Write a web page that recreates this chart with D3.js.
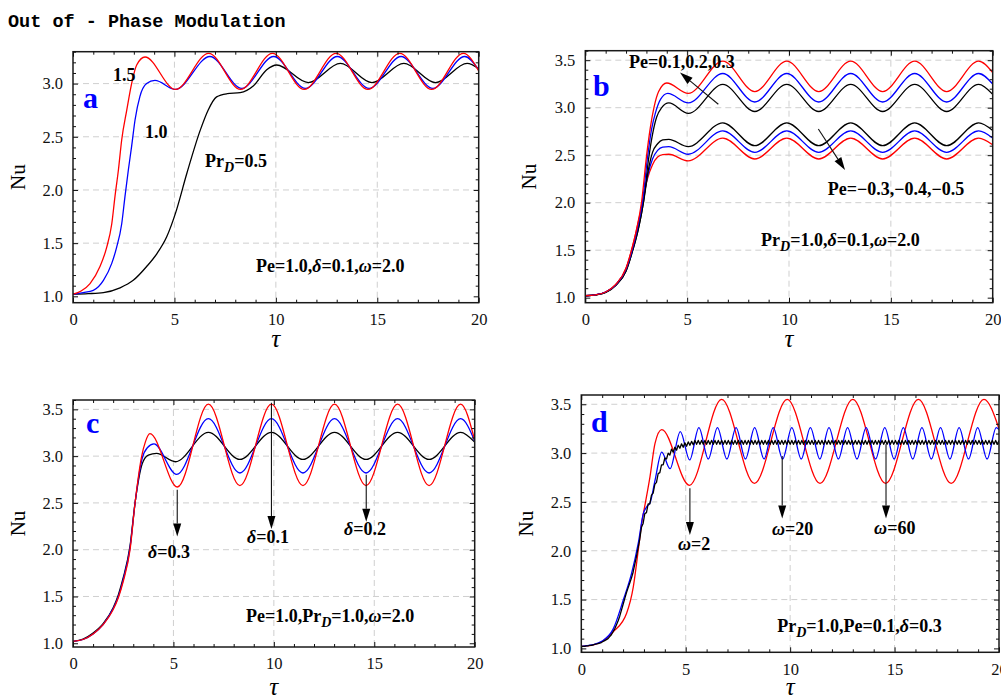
<!DOCTYPE html>
<html>
<head>
<meta charset="utf-8">
<script src="https://cdn.jsdelivr.net/npm/d3@7"></script>
<style>
  body { margin: 0; background: #fff; }
  svg { display: block; }
</style>
</head>
<body>
<svg id="fig" width="1001" height="697"></svg>
<script>
// ---------------- data ----------------
const tauTicks = [0, 5, 10, 15, 20];
const nuTicksA = [1.0, 1.5, 2.0, 2.5, 3.0];
const nuTicksBCD = [1.0, 1.5, 2.0, 2.5, 3.0, 3.5];

// (a) Pr_D = 0.5, 1.0, 1.5 ; points are [tau, Nu]
const prD05 = [[0,1.02],[0.75,1.025],[1.5,1.035],[2.32,1.08],[2.97,1.15],[3.63,1.28],[4.13,1.40],[4.62,1.56],[5.05,1.78],[5.61,2.155],[6.27,2.56],[6.66,2.75],[7.08,2.875],[7.6,2.905],[8.24,2.915],[8.9,2.98],[9.55,3.13],[10.04,3.175],[11.6,3.01],[13.18,3.19],[14.74,3.01],[16.31,3.19],[17.87,3.01],[19.43,3.19],[20,3.14]];
const prD10 = [[0,1.02],[0.5,1.035],[1.0,1.056],[1.5,1.15],[1.91,1.31],[2.15,1.46],[2.4,1.68],[2.56,1.935],[2.73,2.19],[2.89,2.41],[3.06,2.66],[3.3,2.88],[3.63,3.0],[4.04,3.03],[5.05,2.945],[6.75,3.255],[8.32,2.955],[9.89,3.255],[11.46,2.955],[13.03,3.255],[14.6,2.955],[16.17,3.255],[17.74,2.955],[19.31,3.255],[20,3.13]];
const prD15 = [[0,1.02],[0.4,1.05],[0.84,1.12],[1.33,1.28],[1.66,1.46],[1.91,1.68],[2.07,1.94],[2.24,2.19],[2.4,2.47],[2.65,2.75],[2.89,3.0],[3.14,3.175],[3.55,3.25],[5.05,2.945],[6.69,3.285],[8.26,2.945],[9.83,3.285],[11.4,2.945],[12.97,3.285],[14.54,2.945],[16.11,3.285],[17.68,2.945],[19.25,3.285],[20,3.12]];

// (b) Pe = 0.1, 0.2, 0.3 and Pe = -0.3, -0.4, -0.5
const pePos01 = [[0,1.02],[0.5,1.03],[1,1.055],[1.5,1.13],[2,1.28],[2.33,1.5],[2.6,1.72],[2.87,2.03],[3.1,2.45],[3.3,2.72],[3.5,2.9],[3.75,3.0],[4.1,3.05],[5.06,2.94],[6.75,3.245],[8.32,2.96],[9.89,3.245],[11.46,2.96],[13.03,3.245],[14.6,2.96],[16.17,3.245],[17.74,2.96],[19.31,3.245],[20,3.14]];
const pePos02 = [[0,1.02],[0.5,1.03],[1,1.06],[1.5,1.135],[2,1.3],[2.3,1.5],[2.55,1.72],[2.82,2.03],[3.05,2.47],[3.25,2.77],[3.45,2.95],[3.7,3.09],[4.05,3.15],[5.06,3.05],[6.75,3.36],[8.32,3.06],[9.89,3.36],[11.46,3.06],[13.03,3.36],[14.6,3.06],[16.17,3.36],[17.74,3.06],[19.31,3.36],[20,3.25]];
const pePos03 = [[0,1.02],[0.5,1.03],[1,1.06],[1.5,1.14],[2,1.31],[2.27,1.5],[2.5,1.7],[2.77,2.02],[3.0,2.48],[3.2,2.8],[3.37,3.0],[3.6,3.17],[4.0,3.26],[5.05,3.15],[6.75,3.49],[8.32,3.17],[9.89,3.49],[11.46,3.17],[13.03,3.49],[14.6,3.17],[16.17,3.49],[17.74,3.17],[19.31,3.49],[20,3.37]];
const peNeg03 = [[0,1.02],[0.5,1.03],[1,1.055],[1.5,1.13],[2,1.28],[2.33,1.5],[2.6,1.72],[2.87,2.02],[3.1,2.35],[3.3,2.53],[3.55,2.62],[3.8,2.66],[4.1,2.667],[5.05,2.59],[6.75,2.84],[8.32,2.60],[9.89,2.84],[11.46,2.60],[13.03,2.84],[14.6,2.60],[16.17,2.84],[17.74,2.60],[19.31,2.84],[20,2.76]];
const peNeg04 = [[0,1.02],[0.5,1.03],[1,1.06],[1.5,1.135],[2,1.3],[2.3,1.5],[2.55,1.72],[2.82,2.0],[3.08,2.3],[3.3,2.46],[3.55,2.55],[3.8,2.585],[4.1,2.59],[5.05,2.51],[6.75,2.755],[8.32,2.53],[9.89,2.755],[11.46,2.53],[13.03,2.755],[14.6,2.53],[16.17,2.755],[17.74,2.53],[19.31,2.755],[20,2.68]];
const peNeg05 = [[0,1.02],[0.5,1.03],[1,1.06],[1.5,1.14],[2,1.31],[2.27,1.5],[2.5,1.7],[2.77,1.96],[3.05,2.25],[3.3,2.4],[3.55,2.48],[3.8,2.505],[4.1,2.51],[5.05,2.44],[6.75,2.68],[8.32,2.46],[9.89,2.68],[11.46,2.46],[13.03,2.68],[14.6,2.46],[16.17,2.68],[17.74,2.46],[19.31,2.68],[20,2.61]];

// (c) delta = 0.1, 0.2, 0.3
const delta01 = [[0,1.02],[0.5,1.045],[1,1.11],[1.5,1.21],[2,1.38],[2.26,1.52],[2.5,1.7],[2.84,2.04],[3.09,2.5],[3.45,2.92],[3.75,3.01],[4.16,3.03],[5.1,2.94],[6.74,3.255],[8.31,2.965],[9.88,3.255],[11.45,2.965],[13.02,3.255],[14.59,2.965],[16.16,3.255],[17.73,2.965],[19.3,3.255],[20,3.15]];
const delta02 = [[0,1.02],[0.5,1.04],[1,1.1],[1.5,1.2],[2,1.37],[2.26,1.5],[2.5,1.68],[2.84,2.02],[3.09,2.5],[3.45,2.98],[3.7,3.09],[4.03,3.13],[5.16,2.805],[6.74,3.40],[8.31,2.82],[9.88,3.40],[11.45,2.82],[13.02,3.40],[14.59,2.82],[16.16,3.40],[17.73,2.82],[19.3,3.40],[20,3.16]];
const delta03 = [[0,1.02],[0.5,1.04],[1,1.1],[1.5,1.2],[2,1.36],[2.26,1.49],[2.5,1.66],[2.84,2.0],[3.09,2.5],[3.42,3.0],[3.6,3.15],[3.83,3.24],[5.2,2.67],[6.74,3.555],[8.31,2.685],[9.88,3.555],[11.45,2.685],[13.02,3.555],[14.59,2.685],[16.16,3.555],[17.73,2.685],[19.3,3.555],[20,3.17]];

// (d) omega = 2, 20 as [tau, Nu]; omega = 60 sampled every omega60Step in tau
const omega2 = [[0,1.02],[0.5,1.03],[1,1.07],[1.53,1.17],[2.17,1.36],[2.49,1.63],[2.73,2.01],[2.89,2.28],[3.05,2.47],[3.29,2.76],[3.53,3.1],[3.85,3.24],[5.18,2.67],[6.72,3.55],[8.29,2.69],[9.86,3.55],[11.43,2.69],[13.0,3.55],[14.57,2.69],[16.14,3.55],[17.71,2.69],[19.28,3.55],[20,3.25]];
const omega20 = [[0,1.02],[0.5,1.035],[1,1.075],[1.53,1.2],[2.01,1.495],[2.41,1.77],[2.73,2.08],[2.97,2.38],[3.13,2.45],[3.29,2.49],[3.53,2.72],[3.85,3.01],[4.25,2.84],[4.74,3.22],[5.19,2.93],[5.63,3.26],[6.08,2.94],[6.52,3.26],[6.97,2.94],[7.41,3.26],[7.86,2.94],[8.3,3.26],[8.75,2.94],[9.19,3.26],[9.64,2.94],[10.08,3.26],[10.53,2.94],[10.97,3.26],[11.42,2.94],[11.86,3.26],[12.31,2.94],[12.75,3.26],[13.2,2.94],[13.64,3.26],[14.09,2.94],[14.53,3.26],[14.98,2.94],[15.42,3.26],[15.87,2.94],[16.31,3.26],[16.76,2.94],[17.2,3.26],[17.65,2.94],[18.09,3.26],[18.54,2.94],[18.98,3.26],[19.43,2.94],[19.87,3.26],[20,3.24]];
const omega60Step = 0.08;
const omega60 = [
  1.02,1.02,1.02,1.025,1.025,1.03,1.03,1.035,1.04,1.045,
  1.05,1.055,1.06,1.07,1.08,1.09,1.10,1.12,1.14,1.17,
  1.20,1.24,1.28,1.33,1.39,1.45,1.51,1.57,1.62,1.67,
  1.72,1.78,1.86,1.94,2.03,2.12,2.24,2.28,2.38,2.39,
  2.48,2.48,2.57,2.59,2.68,2.70,2.79,2.80,2.88,2.88,
  2.95,2.94,3.00,2.98,3.04,3.01,3.06,3.03,3.08,3.05,
  3.095,3.06,3.105,3.07,3.115,3.08,3.12,3.085,
  3.13,3.09,3.13,3.09,3.13,3.09,3.13,3.09,3.13,3.09,3.13,3.09,3.13,3.09,3.13,3.09,3.13,3.09,3.13,3.09,
  3.13,3.09,3.13,3.09,3.13,3.09,3.13,3.09,3.13,3.09,3.13,3.09,3.13,3.09,3.13,3.09,3.13,3.09,3.13,3.09,
  3.13,3.09,3.13,3.09,3.13,3.09,3.13,3.09,3.13,3.09,3.13,3.09,3.13,3.09,3.13,3.09,3.13,3.09,3.13,3.09,
  3.13,3.09,3.13,3.09,3.13,3.09,3.13,3.09,3.13,3.09,3.13,3.09,3.13,3.09,3.13,3.09,3.13,3.09,3.13,3.09,
  3.13,3.09,3.13,3.09,3.13,3.09,3.13,3.09,3.13,3.09,3.13,3.09,3.13,3.09,3.13,3.09,3.13,3.09,3.13,3.09,
  3.13,3.09,3.13,3.09,3.13,3.09,3.13,3.09,3.13,3.09,3.13,3.09,3.13,3.09,3.13,3.09,3.13,3.09,3.13,3.09,
  3.13,3.09,3.13,3.09,3.13,3.09,3.13,3.09,3.13,3.09,3.13,3.09,3.13,3.09,3.13,3.09,3.13,3.09,3.13,3.09,
  3.13,3.09,3.13,3.09,3.13,3.09,3.13,3.09,3.13,3.09,3.13,3.09,3.13,3.09,3.13,3.09,3.13,3.09,3.13,3.09,
  3.13,3.09,3.13,3.09,3.13,3.09,3.13,3.09,3.13,3.09,3.13,3.09,3.13,3.09,3.13,3.09,3.13,3.09,3.13,3.09,
  3.13,3.09,3.13
];

// ---------------- styling ----------------
const RED = "#ff0000", BLUE = "#0000ff", BLACK = "#000000";
const SERIF = "'Liberation Serif','Times New Roman',Times,serif";

const svg = d3.select("#fig");

svg.append("text")
  .attr("x", 8).attr("y", 26.5)
  .attr("font-family", "'Liberation Mono','Courier New',monospace")
  .attr("font-weight", "bold")
  .attr("font-size", 18.5)
  .text("Out of - Phase Modulation");

// text made of runs: [string, style] with style "i" (italic) or "s" (italic subscript)
function richText(g, x, y, runs, size) {
  const t = g.append("text").attr("x", x).attr("y", y)
    .attr("font-family", SERIF).attr("font-weight", "bold").attr("font-size", size);
  let shifted = 0;
  runs.forEach(([s, st]) => {
    const sp = t.append("tspan").text(s);
    if (st === "i" || st === "s") sp.attr("font-style", "italic");
    if (st === "s") {
      const d = size * 0.28;
      sp.attr("font-size", size * 0.78).attr("dy", d - shifted);
      shifted = d;
    } else if (shifted) {
      sp.attr("dy", -shifted);
      shifted = 0;
    }
  });
  return t;
}

function arrow(g, x1, y1, x2, y2) {
  const len = 13, hw = 4;
  const dx = x2 - x1, dy = y2 - y1, L = Math.hypot(dx, dy);
  const ux = dx / L, uy = dy / L;
  const bx = x2 - ux * len, by = y2 - uy * len;
  g.append("line").attr("x1", x1).attr("y1", y1).attr("x2", bx).attr("y2", by)
    .attr("stroke", "#111").attr("stroke-width", 1.1);
  g.append("path")
    .attr("d", `M${x2},${y2}L${bx - uy * hw},${by + ux * hw}L${bx + uy * hw},${by - ux * hw}Z`)
    .attr("fill", "#000");
}

const panels = [
  {
    key: "a", frame: { x0: 73, x1: 478.7, y0: 51.7, y1: 302.7 }, nuDomain: [0.94, 3.30], nuTicks: nuTicksA,
    series: [{ d: prD05, c: BLACK }, { d: prD10, c: BLUE }, { d: prD15, c: RED }],
    letter: [0.49, 2.77], nuLabelX: 17.5, tauLabelY: 347,
    labels: [
      { at: [1.97, 3.02], runs: [["1.5"]] },
      { at: [3.55, 2.49], runs: [["1.0"]] },
      { at: [6.51, 2.215], runs: [["Pr"], ["D", "s"], ["=0.5"]] },
      { at: [9.02, 1.23], runs: [["Pe=1.0,"], ["δ", "i"], ["=0.1,"], ["ω", "i"], ["=2.0"]] }
    ],
    arrows: []
  },
  {
    key: "b", frame: { x0: 585.3, x1: 992.7, y0: 50.7, y1: 302.7 }, nuDomain: [0.947, 3.60], nuTicks: nuTicksBCD,
    series: [{ d: peNeg05, c: RED }, { d: peNeg04, c: BLUE }, { d: peNeg03, c: BLACK },
             { d: pePos01, c: BLACK }, { d: pePos02, c: BLUE }, { d: pePos03, c: RED }],
    letter: [0.38, 3.12], nuLabelX: 529, tauLabelY: 347,
    labels: [
      { at: [2.15, 3.415], runs: [["Pe=0.1,0.2,0.3"]] },
      { at: [11.9, 2.08], runs: [["Pe=\u22120.3,\u22120.4,\u22120.5"]] },
      { at: [8.63, 1.544], runs: [["Pr"], ["D", "s"], ["=1.0,"], ["δ", "i"], ["=0.1,"], ["ω", "i"], ["=2.0"]] }
    ],
    arrows: [[[6.53, 3.036], [4.65, 3.37]], [[11.44, 2.776], [12.75, 2.344]]]
  },
  {
    key: "c", frame: { x0: 73, x1: 474.7, y0: 400, y1: 647 }, nuDomain: [0.96, 3.60], nuTicks: nuTicksBCD,
    series: [{ d: delta01, c: BLACK }, { d: delta02, c: BLUE }, { d: delta03, c: RED }],
    letter: [0.65, 3.247], nuLabelX: 17.5, tauLabelY: 695,
    labels: [
      { at: [3.73, 1.91], runs: [["δ", "i"], ["=0.3"]] },
      { at: [8.66, 2.07], runs: [["δ", "i"], ["=0.1"]] },
      { at: [13.49, 2.157], runs: [["δ", "i"], ["=0.2"]] },
      { at: [8.61, 1.23], runs: [["Pe=1.0,Pr"], ["D", "s"], ["=1.0,"], ["ω", "i"], ["=2.0"]] }
    ],
    arrows: [[[5.19, 2.64], [5.19, 2.14]], [[9.88, 3.57], [9.88, 2.22]], [[14.6, 2.80], [14.6, 2.30]]]
  },
  {
    key: "d", frame: { x0: 581.3, x1: 999, y0: 395, y1: 652.3 }, nuDomain: [0.96, 3.595], nuTicks: nuTicksBCD,
    series: [{ d: omega2, c: RED }, { d: omega20, c: BLUE },
             { d: omega60.map((v, i) => [i * omega60Step, v]), c: BLACK, linear: true }],
    letter: [0.47, 3.22], nuLabelX: 526, tauLabelY: 695,
    labels: [
      { at: [4.63, 2.01], runs: [["ω", "i"], ["=2"]] },
      { at: [9.13, 2.16], runs: [["ω", "i"], ["=20"]] },
      { at: [14.02, 2.17], runs: [["ω", "i"], ["=60"]] },
      { at: [9.38, 1.17], runs: [["Pr"], ["D", "s"], ["=1.0,Pe=0.1,"], ["δ", "i"], ["=0.3"]] }
    ],
    arrows: [[[5.2, 2.64], [5.2, 2.16]], [[9.62, 2.97], [9.62, 2.33]], [[14.59, 3.09], [14.59, 2.33]]]
  }
];

panels.forEach(p => {
  const f = p.frame;
  const x = d3.scaleLinear().domain([0, 20]).range([f.x0, f.x1]);
  const y = d3.scaleLinear().domain(p.nuDomain).range([f.y1, f.y0]);
  const g = svg.append("g").attr("class", "panel-" + p.key);

  // dashed grid at the major ticks
  const grid = g.append("g").attr("stroke", "#cfcfcf").attr("stroke-width", 1).attr("stroke-dasharray", "6,4");
  tauTicks.filter(t => t > 0 && t < 20).forEach(t =>
    grid.append("line").attr("x1", x(t)).attr("x2", x(t)).attr("y1", f.y0).attr("y2", f.y1));
  p.nuTicks.filter(v => v > 1.0).forEach(v =>
    grid.append("line").attr("x1", f.x0).attr("x2", f.x1).attr("y1", y(v)).attr("y2", y(v)));

  // curves
  const clipId = "clip-" + p.key;
  g.append("clipPath").attr("id", clipId).append("rect")
    .attr("x", f.x0).attr("y", f.y0).attr("width", f.x1 - f.x0).attr("height", f.y1 - f.y0);
  const curves = g.append("g").attr("clip-path", `url(#${clipId})`);
  p.series.forEach(s => {
    const line = d3.line().x(d => x(d[0])).y(d => y(d[1]))
      .curve(s.linear ? d3.curveLinear : d3.curveMonotoneX);
    curves.append("path").attr("d", line(s.d))
      .attr("fill", "none").attr("stroke", s.c).attr("stroke-width", 1.3)
      .attr("stroke-linejoin", "round");
  });

  // frame
  g.append("rect").attr("x", f.x0).attr("y", f.y0).attr("width", f.x1 - f.x0).attr("height", f.y1 - f.y0)
    .attr("fill", "none").attr("stroke", "#1a1a1a").attr("stroke-width", 1.5);

  // ticks on all four sides, pointing inward
  const tauMinor = d3.range(0, 21, 1).filter(t => t % 5 !== 0);
  const nuMinor = d3.range(Math.ceil(p.nuDomain[0] * 10), Math.floor(p.nuDomain[1] * 10) + 1)
    .map(k => k / 10).filter(v => Math.abs(v * 2 - Math.round(v * 2)) > 1e-6);

  function styleAxis(sel) {
    sel.select(".domain").remove();
    sel.selectAll("line").attr("stroke", "#111");
    sel.selectAll("text").attr("font-family", SERIF).attr("font-size", 16.5).attr("fill", "#111");
  }
  g.append("g").attr("transform", `translate(0,${f.y1})`)
    .call(d3.axisBottom(x).tickValues(tauTicks).tickSize(-5).tickPadding(10.5).tickFormat(d3.format("d"))).call(styleAxis);
  g.append("g").attr("transform", `translate(0,${f.y1})`)
    .call(d3.axisBottom(x).tickValues(tauMinor).tickSize(-3).tickFormat("")).call(styleAxis);
  g.append("g").attr("transform", `translate(0,${f.y0})`)
    .call(d3.axisTop(x).tickValues(tauTicks).tickSize(-5).tickFormat("")).call(styleAxis);
  g.append("g").attr("transform", `translate(0,${f.y0})`)
    .call(d3.axisTop(x).tickValues(tauMinor).tickSize(-3).tickFormat("")).call(styleAxis);
  g.append("g").attr("transform", `translate(${f.x0},0)`)
    .call(d3.axisLeft(y).tickValues(p.nuTicks).tickSize(-5).tickPadding(10).tickFormat(d3.format(".1f"))).call(styleAxis);
  g.append("g").attr("transform", `translate(${f.x0},0)`)
    .call(d3.axisLeft(y).tickValues(nuMinor).tickSize(-3).tickFormat("")).call(styleAxis);
  g.append("g").attr("transform", `translate(${f.x1},0)`)
    .call(d3.axisRight(y).tickValues(p.nuTicks).tickSize(-5).tickFormat("")).call(styleAxis);
  g.append("g").attr("transform", `translate(${f.x1},0)`)
    .call(d3.axisRight(y).tickValues(nuMinor).tickSize(-3).tickFormat("")).call(styleAxis);

  // axis titles
  const midY = (f.y0 + f.y1) / 2;
  g.append("text")
    .attr("transform", `translate(${p.nuLabelX},${midY}) rotate(-90)`)
    .attr("text-anchor", "middle").attr("dy", "0.35em")
    .attr("font-family", SERIF).attr("font-size", 21).text("Nu");
  g.append("text")
    .attr("x", x(10)).attr("y", p.tauLabelY).attr("text-anchor", "middle")
    .attr("font-family", SERIF).attr("font-style", "italic").attr("font-size", 25).text("τ");

  // panel letter
  g.append("text").attr("x", x(p.letter[0])).attr("y", y(p.letter[1]))
    .attr("font-family", SERIF).attr("font-weight", "bold").attr("font-size", 30)
    .attr("fill", BLUE).text(p.key);

  // annotations
  p.labels.forEach(l => richText(g, x(l.at[0]), y(l.at[1]), l.runs, 18));
  p.arrows.forEach(([a, b]) => arrow(g, x(a[0]), y(a[1]), x(b[0]), y(b[1])));
});
</script>
</body>
</html>
